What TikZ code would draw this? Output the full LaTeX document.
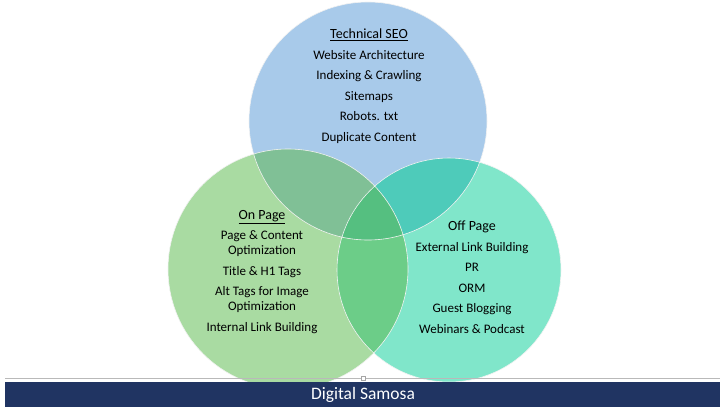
\documentclass[tikz,border=0pt]{standalone}
\usepackage{fontspec}
\setmainfont{Carlito}
\usetikzlibrary{positioning}
\definecolor{seoblue}{HTML}{A8CAEA}
\definecolor{ongreen}{HTML}{A9DBA2}
\definecolor{offteal}{HTML}{80E6CA}
\definecolor{seoon}{HTML}{80C096}
\definecolor{seooff}{HTML}{4ECBBA}
\definecolor{onoff}{HTML}{6CCD88}
\definecolor{allthree}{HTML}{55BF80}
\definecolor{barnavy}{HTML}{203462}

\newcommand{\seoring}{(368,121) circle [radius=119]}
\newcommand{\onring}{(288,269) circle [radius=120]}
\newcommand{\offring}{(449,270) circle [radius=112]}

\begin{document}
\begin{tikzpicture}[
    x=1pt, y=-1pt,
    every node/.style={align=center},
    ringline/.style={draw=white!90!gray, line width=0.6pt},
    items/.style={font=\fontsize{13}{15}\selectfont, text=black},
    brand/.style={font=\fontsize{17.5}{19}\selectfont, text=white}
]
\useasboundingbox (0,0) rectangle (720,408);

% Circles
\fill[seoblue] \seoring;
\fill[ongreen] \onring;
\fill[offteal] \offring;

% Overlaps
\begin{scope}
    \clip \seoring;
    \fill[seoon] \onring;
    \fill[seooff] \offring;
\end{scope}
\begin{scope}
    \clip \onring;
    \fill[onoff] \offring;
\end{scope}
\begin{scope}
    \clip \seoring;
    \clip \onring;
    \fill[allthree] \offring;
\end{scope}
\draw[ringline] \seoring \onring \offring;

% Texts
\node[items] (seo) at (369,86) {{\fontsize{14}{15}\selectfont\underline{Technical SEO}}\\[5.5pt]
    Website Architecture\\[5.5pt] Indexing \& Crawling\\[5.5pt] Sitemaps\\[5.5pt]
    Robots. txt\\[5.5pt] Duplicate Content};
\node[items] (onpage) at (262,272) {{\fontsize{14}{15}\selectfont\underline{On Page}}\\[5.5pt]
    Page \& Content\\ Optimization\\[5.5pt] Title \& H1 Tags\\[5.5pt]
    Alt Tags for Image\\ Optimization\\[5.5pt] Internal Link Building};
\node[items] (offpage) at (472,277) {{\fontsize{14}{15}\selectfont Off Page}\\[5.5pt]
    External Link Building\\[5.5pt] PR\\[5.5pt] ORM\\[5.5pt]
    Guest Blogging\\[5.5pt] Webinars \& Podcast};

% Footer bar
\draw[gray!55, line width=1.3pt] (5,378.5) -- (720,378.5);
\fill[barnavy] (5,382) rectangle (720,407);
\node[draw=gray!70, fill=white, minimum size=4pt, inner sep=0pt] (handle) at (363,378.5) {};
\node[brand] (samosa) at (363,394.5) {Digital Samosa};

\end{tikzpicture}
\end{document}
